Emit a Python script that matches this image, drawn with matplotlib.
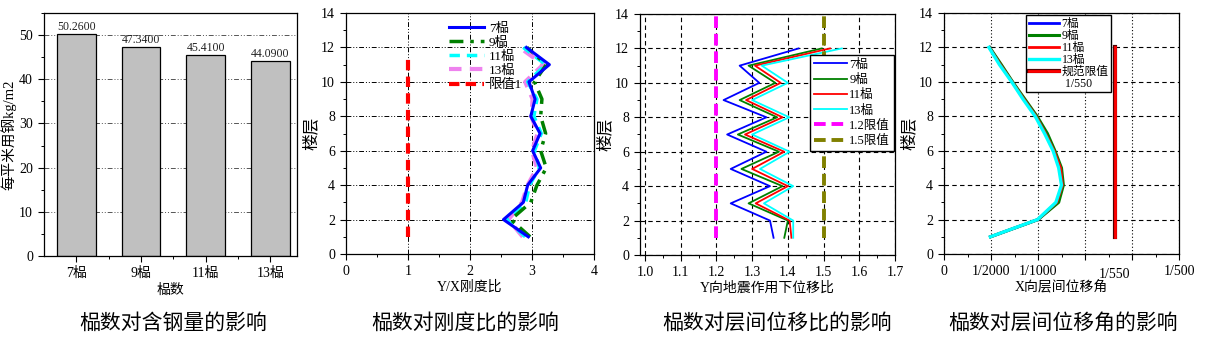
import matplotlib
matplotlib.use("Agg")
import matplotlib.pyplot as plt
import matplotlib.patheffects as pe
from matplotlib.ticker import MultipleLocator, FixedLocator, FormatStrFormatter

plt.rcParams["font.family"] = ["Liberation Serif", "Noto Sans CJK SC"]
plt.rcParams["axes.linewidth"] = 0.9

CJK = ["Noto Sans CJK SC", "Liberation Serif"]

# steel per square metre vs number of bays
bays = ["7榀", "9榀", "11榀", "13榀"]
steel = [50.26, 47.34, 45.41, 44.09]

floors = [1, 2, 3, 4, 5, 6, 7, 8, 9, 10, 11, 12]

# Y/X stiffness ratio per floor
stiff_7 = [2.94, 2.54, 2.86, 2.93, 3.14, 3.01, 3.13, 2.98, 3.05, 2.95, 3.28, 2.91]
stiff_9 = [2.97, 2.66, 2.98, 3.08, 3.23, 3.14, 3.22, 3.14, 3.16, 3.04, 3.23, 2.92]
stiff_11 = [2.89, 2.59, 2.90, 2.96, 3.12, 3.04, 3.15, 3.03, 3.08, 2.93, 3.22, 2.86]
stiff_13 = [2.85, 2.62, 2.84, 2.93, 3.08, 3.00, 3.09, 2.99, 3.01, 2.89, 3.18, 2.80]
stiff_limit = 1.0
stiff_limit_span = [1, 11.6]

# displacement ratio under Y-direction earthquake
disp_7 = [1.36, 1.35, 1.24, 1.35, 1.24, 1.34, 1.23, 1.34, 1.22, 1.32, 1.265, 1.43]
disp_9 = [1.39, 1.40, 1.29, 1.385, 1.27, 1.375, 1.26, 1.37, 1.265, 1.365, 1.29, 1.495]
disp_11 = [1.41, 1.405, 1.31, 1.40, 1.30, 1.39, 1.28, 1.385, 1.283, 1.38, 1.308, 1.518]
disp_13 = [1.415, 1.415, 1.333, 1.415, 1.322, 1.405, 1.30, 1.404, 1.30, 1.40, 1.327, 1.551]
disp_limits = [1.2, 1.5]
disp_limit_span = [1, 14]

# X-direction inter-storey drift angle
drift_7 = [0.000495, 0.0010, 0.00121, 0.00126, 0.00124, 0.00117, 0.00109, 0.00098, 0.00085, 0.000725, 0.00060, 0.000485]
drift_9 = [0.000496, 0.0010, 0.00122, 0.00127, 0.00125, 0.00118, 0.00110, 0.00099, 0.00086, 0.00073, 0.00061, 0.000486]
drift_11 = [0.000494, 0.000998, 0.00120, 0.00126, 0.00124, 0.00117, 0.00108, 0.00098, 0.00085, 0.000725, 0.00060, 0.000482]
drift_13 = [0.000493, 0.000995, 0.00119, 0.00125, 0.00122, 0.00116, 0.00107, 0.00097, 0.00084, 0.00072, 0.00059, 0.000478]
drift_limit = 1 / 550
drift_limit_span = [1, 12]
drift_ticks = [0, 0.0005, 0.001, 0.0015, 0.002, 0.0025]
drift_ticklabels = ["0", "1/2000", "1/1000", "", "", "1/500"]

captions = ["榀数对含钢量的影响", "榀数对刚度比的影响", "榀数对层间位移比的影响", "榀数对层间位移角的影响"]
caption_x = [173, 465, 777, 1063]

W, H = 1207, 345
DDOT = (0, (5, 2, 1, 2, 1, 2))


def axes_px(fig, left, right, top, bottom):
    return fig.add_axes([left / W, 1 - bottom / H, (right - left) / W, (bottom - top) / H])


def origin_ticks(ax):
    ax.tick_params(which="major", direction="out", length=4.5, width=0.8, labelsize=10,
                   top=False, right=False)
    ax.tick_params(which="minor", direction="out", length=2.5, width=0.7,
                   top=False, right=False)


def floor_axis(ax):
    ax.set_ylim(0, 14)
    ax.yaxis.set_major_locator(MultipleLocator(2))
    ax.yaxis.set_minor_locator(MultipleLocator(1))
    ax.set_ylabel("楼层", family=CJK, fontsize=12, labelpad=1)


fig = plt.figure(figsize=(W / 100, H / 100), dpi=100)

# --- steel content bars
ax = axes_px(fig, 44, 297, 13, 256)
xs = list(range(len(bays)))
ax.bar(xs, steel, width=0.6, color="#c0c0c0", edgecolor="black", linewidth=0.9, zorder=2)
for x, v in zip(xs, steel):
    ax.text(x, v + 0.3, f"{v:.4f}", ha="center", va="bottom", fontsize=8.5, color="#222222")
ax.set_xlim(-0.5, 3.41)
ax.set_ylim(0, 55)
ax.yaxis.set_major_locator(MultipleLocator(10))
ax.yaxis.set_minor_locator(MultipleLocator(5))
ax.set_xticks(xs)
ax.set_xticklabels(bays)
ax.xaxis.set_minor_locator(FixedLocator([0.5, 1.5, 2.5]))
ax.yaxis.grid(True, linestyle=DDOT, color="#555555", linewidth=0.7, zorder=0)
origin_ticks(ax)
ax.set_ylabel("每平米用钢kg/m2", fontsize=10.5, labelpad=2)
ax.set_xlabel("榀数", family=CJK, fontsize=10, labelpad=2)

# --- stiffness ratio
ax = axes_px(fig, 346, 594, 13, 254)
ax.plot(stiff_13, floors, color="violet", lw=3, ls=(0, (3, 2)), zorder=2)
ax.plot(stiff_11, floors, color="cyan", lw=2.5, ls=(0, (3, 2)), zorder=3)
ax.plot(stiff_9, floors, color="green", lw=2.5, ls=(0, (4, 2, 1, 2)), zorder=4)
ax.plot(stiff_7, floors, color="blue", lw=2.2, zorder=5)
ax.plot([stiff_limit, stiff_limit], stiff_limit_span, color="red", lw=3, ls=(0, (2.5, 1.5)))
h7, = ax.plot([], [], color="blue", lw=2.2, label="7榀")
h9, = ax.plot([], [], color="green", lw=2.5, ls=(0, (4, 2, 1, 2)), label="9榀")
h11, = ax.plot([], [], color="cyan", lw=2.5, ls=(0, (3, 2)), label="11榀")
h13, = ax.plot([], [], color="violet", lw=3, ls=(0, (3, 2)), label="13榀")
hl, = ax.plot([], [], color="red", lw=3, ls=(0, (2.5, 1.5)), label="限值1")
ax.legend(handles=[h7, h9, h11, h13, hl], loc="upper left", bbox_to_anchor=(0.38, 1.0),
          frameon=False, fontsize=9.5, handlelength=2.6, handletextpad=0.4,
          labelspacing=0.15, borderaxespad=0.3)
ax.set_xlim(0, 4)
ax.xaxis.set_major_locator(MultipleLocator(1))
ax.xaxis.set_minor_locator(MultipleLocator(0.5))
floor_axis(ax)
ax.grid(True, linestyle=DDOT, color="black", linewidth=0.7, zorder=0)
origin_ticks(ax)
ax.set_xlabel("Y/X刚度比", fontsize=10, labelpad=2)

# --- displacement ratio
ax = axes_px(fig, 640, 895, 14, 255)
ax.plot(disp_7, floors, color="blue", lw=1.3, label="7榀")
ax.plot(disp_9, floors, color="green", lw=1.3, label="9榀")
ax.plot(disp_11, floors, color="red", lw=1.3, label="11榀")
ax.plot(disp_13, floors, color="cyan", lw=1.3, label="13榀")
ax.plot([disp_limits[0]] * 2, disp_limit_span, color="magenta", lw=2.8, ls=(0, (3, 1.5)), label="1.2限值")
ax.plot([disp_limits[1]] * 2, disp_limit_span, color="olive", lw=2.8, ls=(0, (3, 1.5)), label="1.5限值")
ax.legend(loc="upper right", bbox_to_anchor=(0.995, 0.83), frameon=True, fancybox=False,
          edgecolor="black", framealpha=1, fontsize=9, handlelength=2.6, handletextpad=0.2,
          labelspacing=0.25, borderpad=0.3, borderaxespad=0)
ax.set_xlim(0.986, 1.7)
ax.xaxis.set_major_locator(MultipleLocator(0.1))
ax.xaxis.set_minor_locator(MultipleLocator(0.05))
floor_axis(ax)
ax.grid(True, linestyle=(0, (4, 3)), color="black", linewidth=0.8, zorder=0)
origin_ticks(ax)
ax.xaxis.set_major_formatter(FormatStrFormatter("%.1f"))
ax.set_xlabel("Y向地震作用下位移比", fontsize=10, labelpad=2)

# --- inter-storey drift angle
ax = axes_px(fig, 944, 1179, 13, 254)
ax.plot(drift_7, floors, color="blue", lw=2, label="7榀")
ax.plot(drift_9, floors, color="green", lw=2.2, label="9榀")
ax.plot(drift_11, floors, color="red", lw=2, label="11榀")
ax.plot(drift_13, floors, color="cyan", lw=2.4, label="13榀")
outline = [pe.Stroke(linewidth=3.0, foreground="#500000"), pe.Normal()]
ax.plot([drift_limit, drift_limit], drift_limit_span, color="red", lw=2.0,
        path_effects=outline, label="规范限值")
ax.plot([], [], color="none", label=" 1/550")
ax.legend(loc="upper center", bbox_to_anchor=(0.53, 0.99), frameon=True, fancybox=False,
          edgecolor="black", framealpha=1, fontsize=8.5, handlelength=2.6, handletextpad=0.2,
          labelspacing=0.0, borderpad=0.2, borderaxespad=0)
ax.set_xlim(0, 0.0025)
ax.set_xticks(drift_ticks)
ax.set_xticklabels(drift_ticklabels)
ax.xaxis.set_minor_locator(MultipleLocator(0.00025))
floor_axis(ax)
ax.xaxis.grid(True, linestyle=(0, (1, 2)), color="black", linewidth=0.8, zorder=0)
ax.yaxis.grid(True, linestyle=(0, (4, 3)), color="black", linewidth=0.8, zorder=0)
origin_ticks(ax)
ax.text(drift_limit, -0.06, "1/550", transform=ax.get_xaxis_transform(),
        ha="center", va="top", fontsize=10)
ax.set_xlabel("X向层间位移角", fontsize=10, labelpad=2)

for x, cap in zip(caption_x, captions):
    fig.text(x / W, 1 - 323 / H, cap, family=CJK, fontsize=15, ha="center", va="center")

fig.savefig("out.png", dpi=100)
